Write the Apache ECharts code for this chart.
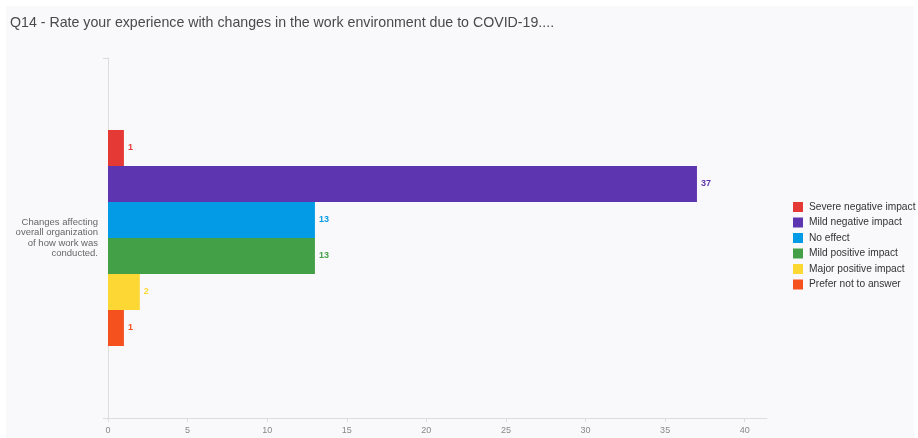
<!DOCTYPE html>
<html><head><meta charset="utf-8">
<script src="https://cdn.jsdelivr.net/npm/echarts@6/dist/echarts.min.js"></script>
<style>html,body{margin:0;padding:0;background:#fff}#c{width:918px;height:438px}</style>
</head><body><div id="c"></div>
<script>
const titleText = 'Q14 - Rate your experience with changes in the work environment due to COVID-19....';
const categories = ['Changes affecting\noverall organization\nof how work was\nconducted.'];
const seriesNames = ['Severe negative impact','Mild negative impact','No effect','Mild positive impact','Major positive impact','Prefer not to answer'];
const seriesValues = [[1],[37],[13],[13],[2],[1]];
const seriesColors = ['#e53935','#5e35b1','#039be5','#43a047','#fdd835','#f4511e'];
const xTicks = [0,5,10,15,20,25,30,35,40];

const chart = echarts.init(document.getElementById('c'));
chart.setOption({
  backgroundColor:'#ffffff',
  animation:false,
  graphic:[{type:'rect',z:-10,shape:{x:6,y:6,width:908,height:432},style:{fill:'#f9f9fb'}}],
  title:{text:titleText,left:5,top:11,textStyle:{fontFamily:'Liberation Sans',fontSize:14.2,fontWeight:'normal',color:'#4a4a4a'}},
  legend:{orient:'vertical',left:788,top:197,itemWidth:10,itemHeight:10,itemGap:5.5,icon:'rect',
    data:seriesNames,textStyle:{fontFamily:'Liberation Sans',fontSize:10.2,color:'#333',padding:[0,0,0,1]}},
  grid:{left:108,top:58,right:151,bottom:20,containLabel:false},
  xAxis:{type:'value',min:0,max:41.4,interval:5,
    axisLine:{show:true,lineStyle:{color:'#ddd'}},
    axisTick:{show:true,length:4,lineStyle:{color:'#ddd'}},
    splitLine:{show:false},
    axisLabel:{showMaxLabel:false,fontFamily:'Liberation Sans',fontSize:9,color:'#888',margin:8}},
  yAxis:{type:'category',data:categories,inverse:true,
    axisLine:{show:true,lineStyle:{color:'#ddd'}},
    axisTick:{show:true,length:5,lineStyle:{color:'#ddd'}},
    axisLabel:{fontFamily:'Liberation Sans',fontSize:9.5,lineHeight:10.5,color:'#666',margin:10,align:'right'}},
  series: seriesNames.map((n,i)=>({
    name:n,type:'bar',data:seriesValues[i],barGap:'0%',barCategoryGap:'40%',
    itemStyle:{color:seriesColors[i]},
    label:{show:true,position:'right',distance:4,fontFamily:'Liberation Sans',fontSize:9,fontWeight:'bold',color:seriesColors[i]}
  }))
});
</script></body></html>
